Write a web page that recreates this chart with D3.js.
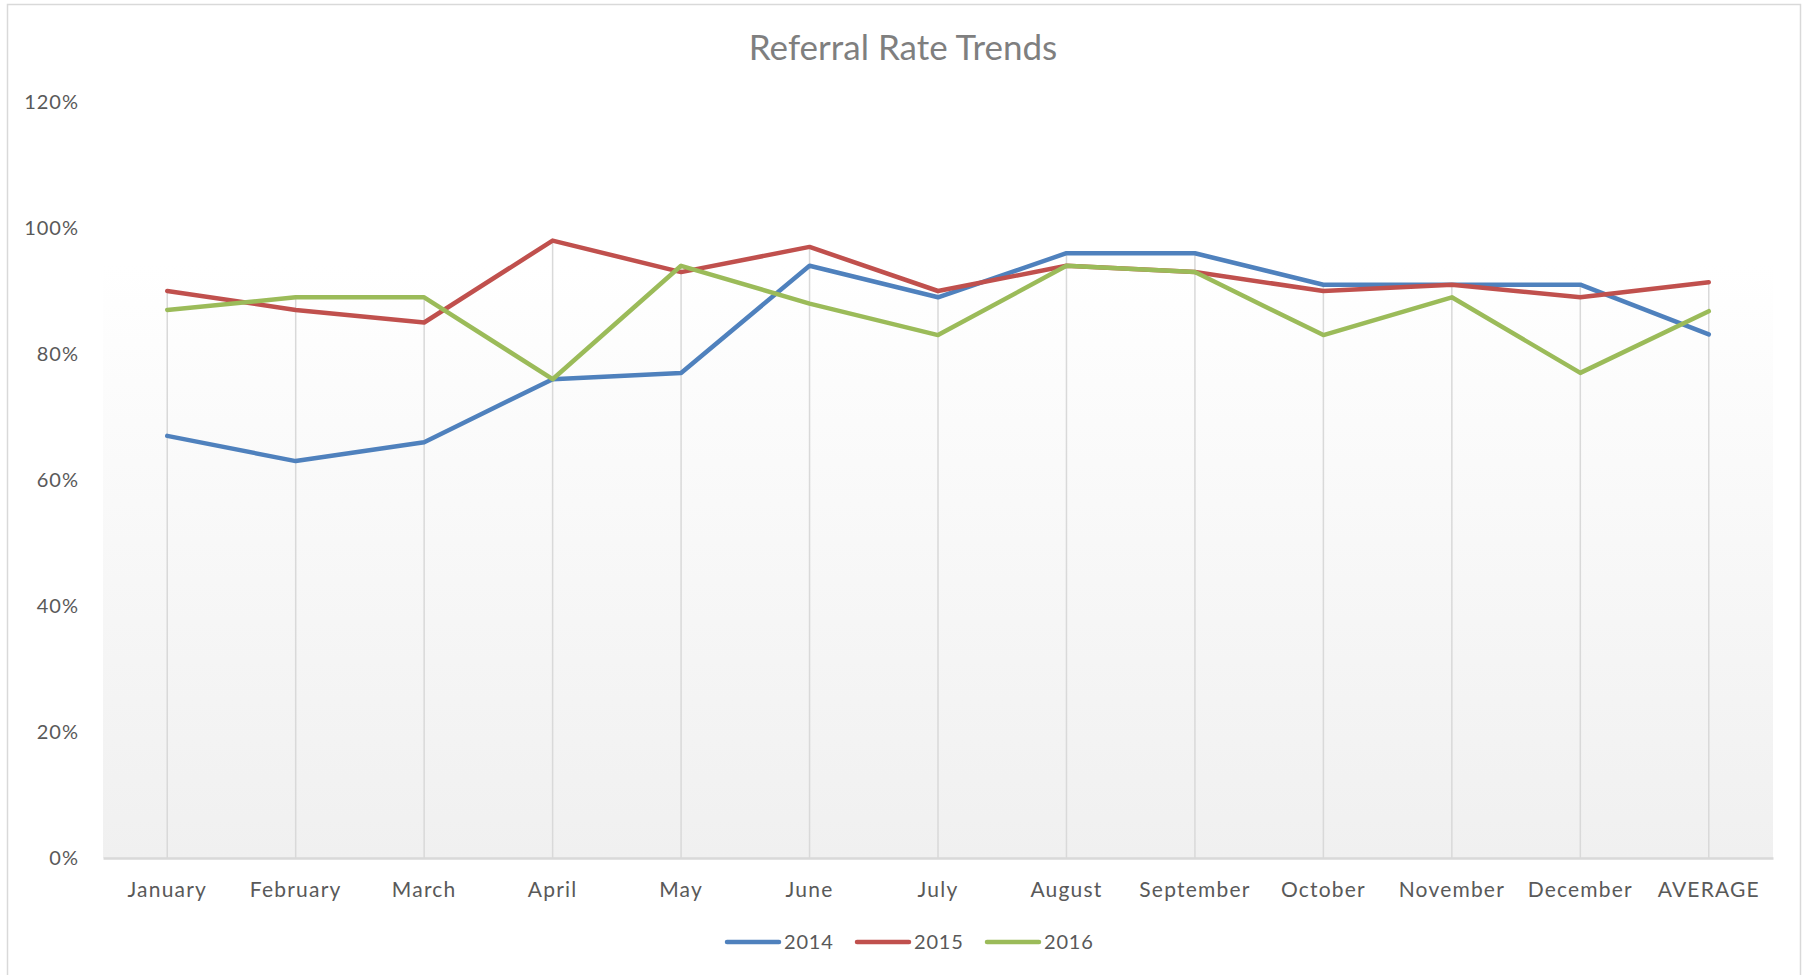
<!DOCTYPE html>
<html>
<head>
<meta charset="utf-8">
<script src="https://cdn.jsdelivr.net/npm/d3@7"></script>
<style>
  html, body { margin: 0; padding: 0; background: #fff; }
  svg { display: block; }
  text { font-family: Lato, "Open Sans", sans-serif; }
</style>
</head>
<body>
<svg id="chart" width="1803" height="975"></svg>
<script>
const categories = ["January","February","March","April","May","June","July","August","September","October","November","December","AVERAGE"];
const seriesNames = ["2014","2015","2016"];
const values2014 = [67, 63, 66, 76, 77, 94, 89, 96, 96, 91, 91, 91, 83.1];
const values2015 = [90, 87, 85, 98, 93, 97, 90, 94, 93, 90, 91, 89, 91.4];
const values2016 = [87, 89, 89, 76, 94, 88, 83, 94, 93, 83, 89, 77, 86.8];
const yTicks = [0, 20, 40, 60, 80, 100, 120];
const colors = ["#4f81bd", "#c0504d", "#9bbb59"];
const title = "Referral Rate Trends";

const allSeries = [values2014, values2015, values2016];

const svg = d3.select("#chart");
const plot = { left: 103, right: 1773, top: 102, bottom: 858 };

// chart border
svg.append("rect").attr("x", 7.5).attr("y", 4.5).attr("width", 1793).attr("height", 990)
  .attr("fill", "#fff").attr("stroke", "#d9d9d9").attr("stroke-width", 1.5);

const x = d3.scaleBand().domain(categories).range([plot.left, plot.right]).padding(0);
const y = d3.scaleLinear().domain([0, 120]).range([plot.bottom, plot.top]);

// gradient plot area
const defs = svg.append("defs");
const grad = defs.append("linearGradient").attr("id", "pg").attr("x1", 0).attr("y1", 0).attr("x2", 0).attr("y2", 1);
grad.append("stop").attr("offset", "0%").attr("stop-color", "#ffffff");
grad.append("stop").attr("offset", "12%").attr("stop-color", "#ffffff");
grad.append("stop").attr("offset", "100%").attr("stop-color", "#f0f0f0");
svg.append("rect").attr("x", plot.left).attr("y", y(107)).attr("width", plot.right - plot.left)
  .attr("height", plot.bottom - y(107)).attr("fill", "url(#pg)");

// title
svg.append("text").attr("x", 903).attr("y", 60).attr("text-anchor", "middle")
  .attr("font-size", 35).attr("fill", "#7f7f7f").text(title);

// y axis labels
const yAxis = d3.axisLeft(y).tickValues(yTicks).tickFormat(d => d + "%").tickSize(0).tickPadding(0);
const gy = svg.append("g").attr("transform", `translate(79,0)`).call(yAxis);
gy.select(".domain").remove();
gy.selectAll("text").attr("font-size", 20).attr("fill", "#595959").attr("letter-spacing", 1)
  .attr("font-family", "Lato, sans-serif");

// drop lines
const cx = c => x(c) + x.bandwidth() / 2;
svg.append("g").selectAll("line").data(categories).join("line")
  .attr("x1", d => cx(d)).attr("x2", d => cx(d))
  .attr("y1", (d, i) => y(d3.max(allSeries, s => s[i])))
  .attr("y2", plot.bottom)
  .attr("stroke", "#d9d9d9").attr("stroke-width", 1.5);

// x axis
const xAxis = d3.axisBottom(x).tickSize(0).tickPadding(24);
const gx = svg.append("g").attr("transform", `translate(0,${plot.bottom})`).call(xAxis);
gx.select(".domain").attr("stroke", "#d9d9d9").attr("stroke-width", 2.5);
gx.selectAll("text").attr("font-size", 21).attr("fill", "#595959").attr("letter-spacing", 1.2)
  .attr("font-family", "Lato, sans-serif");

// lines
const line = d3.line().x((d, i) => cx(categories[i])).y(d => y(d));
allSeries.forEach((s, k) => {
  svg.append("path").datum(s).attr("d", line).attr("fill", "none")
    .attr("stroke", colors[k]).attr("stroke-width", 4.5).attr("stroke-linejoin", "round").attr("stroke-linecap", "round");
});

// legend
const legendX = [727, 857, 987];
const lg = svg.append("g");
seriesNames.forEach((n, k) => {
  lg.append("line").attr("x1", legendX[k]).attr("x2", legendX[k] + 52).attr("y1", 942).attr("y2", 942)
    .attr("stroke", colors[k]).attr("stroke-width", 4.5).attr("stroke-linecap", "round");
  lg.append("text").attr("x", legendX[k] + 57).attr("y", 949).attr("font-size", 20)
    .attr("fill", "#595959").attr("letter-spacing", 0.8).text(n);
});
</script>
</body>
</html>
